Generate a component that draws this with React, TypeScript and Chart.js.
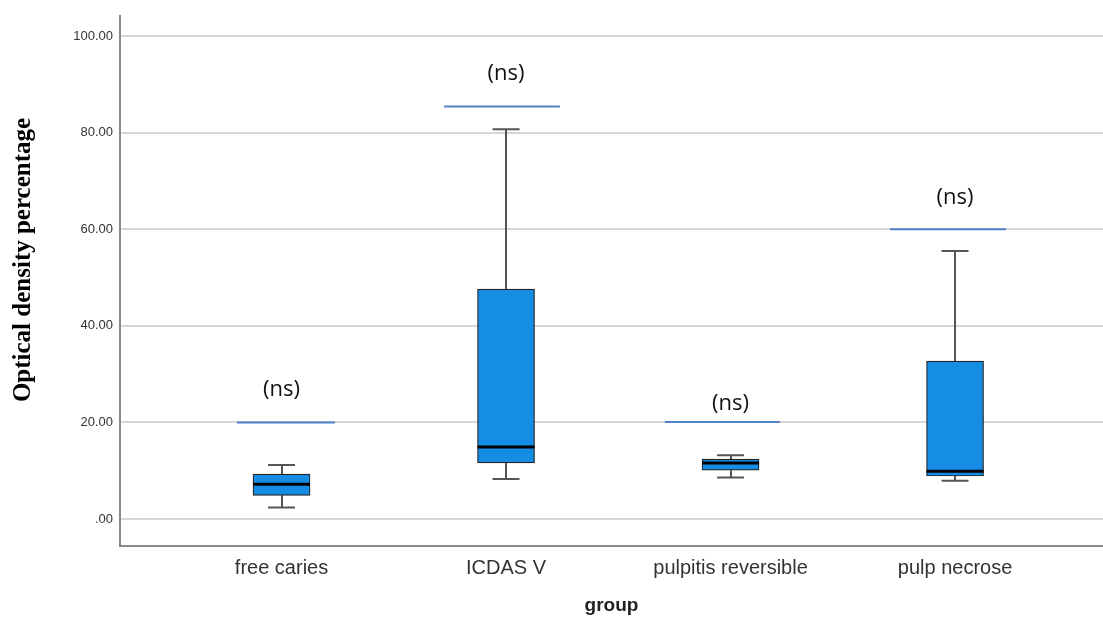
import React, { useEffect, useRef } from "react";
import { Chart, registerables } from "chart.js";

Chart.register(...registerables);

const categories = ["free caries", "ICDAS V", "pulpitis reversible", "pulp necrose"];
const whiskerLow = [2.4, 8.3, 8.6, 7.9];
const q1 = [4.9, 11.6, 10.1, 8.9];
const median = [7.2, 14.9, 11.6, 9.9];
const q3 = [9.3, 47.6, 12.4, 32.7];
const whiskerHigh = [11.2, 80.7, 13.2, 55.5];
const sigLineY = [20, 85.4, 20.1, 60];
const sigFrom = [-0.198, -0.276, -0.292, -0.29];
const sigTo = [0.238, 0.24, 0.22, 0.227];
const sigLabelY = [26.8, 92.1, 23.8, 66.5];
const sigLabels = ["(ns)", "(ns)", "(ns)", "(ns)"];
const yTicks = [0, 20, 40, 60, 80, 100];
const yTitle = "Optical density percentage";
const xTitle = "group";

const BOX_HALF = 0.127;
const CAP_HALF = 0.06;

const boxPlugin = {
  id: "boxExtras",
  beforeDatasetsDraw(chart: any) {
    const { ctx, scales } = chart;
    const x = scales.x, y = scales.y;
    ctx.save();
    ctx.strokeStyle = "#555555";
    ctx.lineWidth = 2;
    categories.forEach((_, i) => {
      const cx = Math.round(x.getPixelForValue(i));
      const cl = x.getPixelForValue(i - CAP_HALF);
      const cr = x.getPixelForValue(i + CAP_HALF);
      const yl = y.getPixelForValue(whiskerLow[i]);
      const yq1 = y.getPixelForValue(q1[i]);
      const yq3 = y.getPixelForValue(q3[i]);
      const yh = y.getPixelForValue(whiskerHigh[i]);
      ctx.beginPath();
      ctx.moveTo(cx, yl);
      ctx.lineTo(cx, yq1);
      ctx.moveTo(cx, yq3);
      ctx.lineTo(cx, yh);
      ctx.moveTo(cl, yl);
      ctx.lineTo(cr, yl);
      ctx.moveTo(cl, yh);
      ctx.lineTo(cr, yh);
      ctx.stroke();
    });
    ctx.restore();
  },
  afterDatasetsDraw(chart: any) {
    const { ctx, scales } = chart;
    const x = scales.x, y = scales.y;
    ctx.save();
    ctx.strokeStyle = "#000000";
    ctx.lineWidth = 3;
    categories.forEach((_, i) => {
      const l = x.getPixelForValue(i - BOX_HALF);
      const r = x.getPixelForValue(i + BOX_HALF);
      const ym = y.getPixelForValue(median[i]);
      ctx.beginPath();
      ctx.moveTo(l, ym);
      ctx.lineTo(r, ym);
      ctx.stroke();
    });
    ctx.strokeStyle = "#4f81c9";
    ctx.lineWidth = 2;
    categories.forEach((_, i) => {
      const l = x.getPixelForValue(i + sigFrom[i]);
      const r = x.getPixelForValue(i + sigTo[i]);
      const ys = y.getPixelForValue(sigLineY[i]);
      ctx.beginPath();
      ctx.moveTo(l, ys);
      ctx.lineTo(r, ys);
      ctx.stroke();
    });
    ctx.fillStyle = "#111111";
    ctx.font = "22px 'Open Sans', sans-serif";
    ctx.textAlign = "center";
    ctx.textBaseline = "middle";
    categories.forEach((_, i) => {
      ctx.fillText(sigLabels[i], x.getPixelForValue(i), y.getPixelForValue(sigLabelY[i]));
    });
    ctx.restore();
  },
  afterDraw(chart: any) {
    const { ctx } = chart;
    ctx.save();
    ctx.translate(24, 260);
    ctx.rotate(-Math.PI / 2);
    ctx.font = "bold 25px 'Liberation Serif', serif";
    ctx.fillStyle = "#000000";
    ctx.textAlign = "center";
    ctx.textBaseline = "middle";
    ctx.fillText(yTitle, 0, 0);
    ctx.restore();
  },
};

export default function App() {
  const ref = useRef<HTMLCanvasElement | null>(null);
  useEffect(() => {
    if (!ref.current) return;
    const chart = new Chart(ref.current, {
      type: "bar",
      data: {
        datasets: [
          {
            data: categories.map((_, i) => ({ x: i, y: [q1[i], q3[i]] })) as any,
            backgroundColor: "#168de4",
            borderColor: "#222222",
            borderWidth: 1.2,
            borderSkipped: false,
            barThickness: 57,
          },
        ],
      },
      options: {
        animation: false,
        responsive: true,
        maintainAspectRatio: false,
        layout: { padding: { top: 16, left: 0, right: 0, bottom: 0 } },
        plugins: { legend: { display: false }, tooltip: { enabled: false } },
        scales: {
          x: {
            type: "linear",
            offset: false,
            min: -0.7194,
            max: 3.659,
            afterBuildTicks: (scale: any) => {
              scale.ticks = categories.map((_, i) => ({ value: i }));
            },
            afterFit: (scale: any) => {
              scale.height = 71;
            },
            grid: { display: true, offset: false, color: "rgba(0,0,0,0)", drawTicks: false },
            border: { display: true, color: "#8a8a8a", width: 2 },
            ticks: {
              autoSkip: false,
              maxRotation: 0,
              padding: 10,
              color: "#333333",
              font: { family: "'Liberation Sans', Arial, sans-serif", size: 20 },
              callback: (v: any) => categories[v] ?? "",
            },
            title: {
              display: true,
              text: xTitle,
              color: "#222222",
              font: { family: "'Liberation Sans', Arial, sans-serif", size: 19, weight: "bold" },
              padding: { top: 10, bottom: 0 },
            },
          },
          y: {
            type: "linear",
            min: -5.59,
            max: 104.14,
            afterBuildTicks: (scale: any) => {
              scale.ticks = yTicks.map((v) => ({ value: v }));
            },
            afterFit: (scale: any) => {
              scale.width = 120;
            },
            grid: { color: "#d6d6d6", lineWidth: 2, drawTicks: false },
            border: { display: true, color: "#8a8a8a", width: 2 },
            ticks: {
              padding: 7,
              color: "#333333",
              font: { family: "'Liberation Sans', Arial, sans-serif", size: 13 },
              callback: (v: any) => (Number(v) === 0 ? ".00" : Number(v).toFixed(2)),
            },
          },
        },
      },
      plugins: [boxPlugin],
    });
    return () => chart.destroy();
  }, []);
  return (
    <div style={{ position: "fixed", left: 0, top: 0, width: 1103, height: 617, background: "#ffffff" }}>
      <canvas ref={ref} style={{ width: "100%", height: "100%" }} />
    </div>
  );
}
